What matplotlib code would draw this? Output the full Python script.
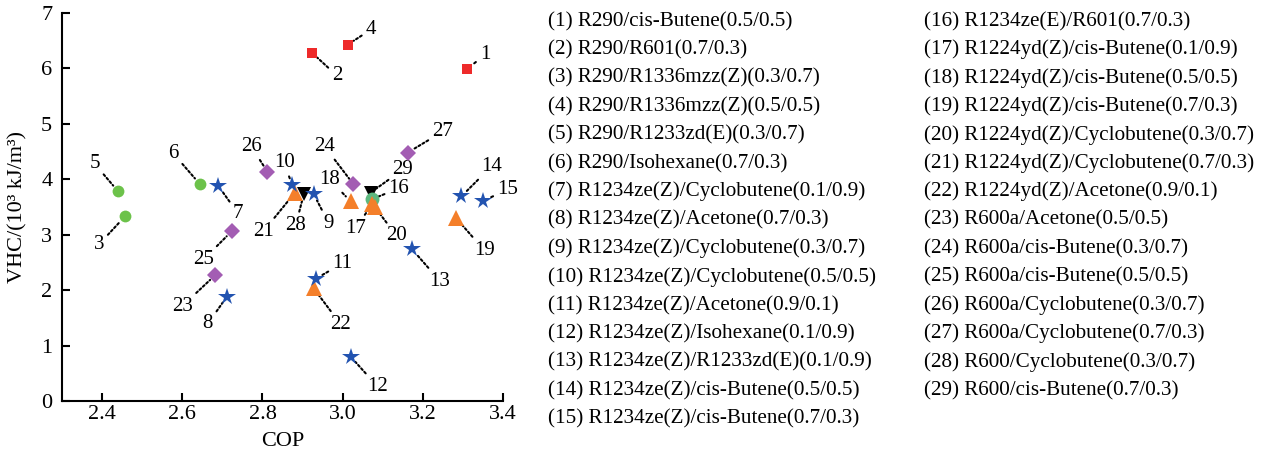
import matplotlib
matplotlib.use('Agg')
import matplotlib.pyplot as plt
from matplotlib.ticker import FormatStrFormatter

plt.rcParams['font.family'] = ['Liberation Serif', 'DejaVu Serif']

# ---------------- data ----------------
mix_ids = list(range(1, 30))
cop = [3.31, 2.924, 2.457, 3.013, 2.439, 2.643, 2.69, 2.711, 2.928, 2.874,
       2.934, 3.02, 3.173, 3.296, 3.349, 3.073, 3.073, 3.02, 3.283, 3.08,
       2.88, 2.928, 2.682, 3.027, 2.723, 2.812, 3.162, 2.903, 3.07]
vhc = [5.99, 6.28, 3.33, 6.43, 3.79, 3.92, 3.88, 1.88, 3.73, 3.90,
       2.21, 0.80, 2.74, 3.69, 3.61, 3.64, 3.55, 3.60, 3.30, 3.50,
       3.75, 2.03, 2.27, 3.91, 3.06, 4.14, 4.48, 3.73, 3.76]
group = ['R290_a', 'R290_a', 'R290_b', 'R290_a', 'R290_b', 'R290_b',
         'ZE', 'ZE', 'ZE', 'ZE', 'ZE', 'ZE', 'ZE', 'ZE', 'ZE',
         'EE', 'YD', 'YD', 'YD', 'YD', 'YD', 'YD',
         'ISO', 'ISO', 'ISO', 'ISO', 'ISO', 'BUT', 'BUT']
legend_names = [
    "R290/cis-Butene(0.5/0.5)", "R290/R601(0.7/0.3)", "R290/R1336mzz(Z)(0.3/0.7)",
    "R290/R1336mzz(Z)(0.5/0.5)", "R290/R1233zd(E)(0.3/0.7)", "R290/Isohexane(0.7/0.3)",
    "R1234ze(Z)/Cyclobutene(0.1/0.9)", "R1234ze(Z)/Acetone(0.7/0.3)",
    "R1234ze(Z)/Cyclobutene(0.3/0.7)", "R1234ze(Z)/Cyclobutene(0.5/0.5)",
    "R1234ze(Z)/Acetone(0.9/0.1)", "R1234ze(Z)/Isohexane(0.1/0.9)",
    "R1234ze(Z)/R1233zd(E)(0.1/0.9)", "R1234ze(Z)/cis-Butene(0.5/0.5)",
    "R1234ze(Z)/cis-Butene(0.7/0.3)", "R1234ze(E)/R601(0.7/0.3)",
    "R1224yd(Z)/cis-Butene(0.1/0.9)", "R1224yd(Z)/cis-Butene(0.5/0.5)",
    "R1224yd(Z)/cis-Butene(0.7/0.3)", "R1224yd(Z)/Cyclobutene(0.3/0.7)",
    "R1224yd(Z)/Cyclobutene(0.7/0.3)", "R1224yd(Z)/Acetone(0.9/0.1)",
    "R600a/Acetone(0.5/0.5)", "R600a/cis-Butene(0.3/0.7)", "R600a/cis-Butene(0.5/0.5)",
    "R600a/Cyclobutene(0.3/0.7)", "R600a/Cyclobutene(0.7/0.3)",
    "R600/Cyclobutene(0.3/0.7)", "R600/cis-Butene(0.7/0.3)"]
x_ticks = [2.4, 2.6, 2.8, 3.0, 3.2, 3.4]
y_ticks = [0, 1, 2, 3, 4, 5, 6, 7]

# label offsets (pixels, dx right, dy down) of each number label from its marker
label_offsets = [(18, -14), (25, 23), (-26, 28), (23, -15), (-23, -27), (-26, -30),
                 (20, 28), (-19, 27), (15, 29), (-8, -22), (26, -15), (27, 30),
                 (28, 32), (30, -30), (25, -11), (27, -11), (-16, 24), (-21, -22),
                 (28, 32), (22, 29), (-31, 38), (27, 36), (-33, 31), (-29, -38),
                 (-28, 28), (-16, -25), (35, -21), (-8, 31), (32, -23)]

# ---------------- styles ----------------
styles = {
    'BUT':    dict(marker='v', color='#000000', ms=10, z=3),
    'EE':     dict(marker='o', color='#5DB87F', ms=10, z=4),
    'YD':     dict(marker='^', color='#F47F2A', ms=11, z=5),
    'ISO':    dict(marker='D', color='#A35DB3', ms=8.5, z=6),
    'ZE':     dict(marker='*', color='#2253B0', ms=13, z=7),
    'R290_a': dict(marker='s', color='#EE2A2A', ms=7, z=8),
    'R290_b': dict(marker='o', color='#6CC24A', ms=8.5, z=8),
}

W, H = 1266, 459
fig = plt.figure(figsize=(W / 100, H / 100), dpi=100)
ax = fig.add_axes([62 / W, 1 - 401 / H, (503 - 62) / W, (401 - 13) / H])

for g, st in styles.items():
    xs = [c for c, gg in zip(cop, group) if gg == g]
    ys = [v for v, gg in zip(vhc, group) if gg == g]
    ax.plot(xs, ys, linestyle='none', marker=st['marker'], color=st['color'],
            markersize=st['ms'], markeredgewidth=0, zorder=st['z'], clip_on=False)

for i, (x, y) in enumerate(zip(cop, vhc)):
    dx, dy = label_offsets[i]
    ax.annotate(str(mix_ids[i]), xy=(x, y), xytext=(dx, -dy), textcoords='offset pixels',
                ha='center', va='center', fontsize=15, zorder=2,
                arrowprops=dict(arrowstyle='-', linestyle=(0, (1, 1.2)), lw=1.5,
                                color='black', shrinkA=1, shrinkB=5))

ax.set_xlim(2.3, 3.4)
ax.set_ylim(0, 7)
ax.set_xticks(x_ticks)
ax.set_yticks(y_ticks)
ax.xaxis.set_major_formatter(FormatStrFormatter('%.1f'))
ax.spines['top'].set_visible(False)
ax.spines['right'].set_visible(False)
for s in ['left', 'bottom']:
    ax.spines[s].set_linewidth(1.5)
ax.tick_params(axis='both', direction='in', length=6, width=1.5, labelsize=16)
ax.tick_params(axis='x', pad=3)
ax.tick_params(axis='y', pad=7)
ax.set_xlabel('COP', fontsize=16, labelpad=6)
ax.set_ylabel('VHC/(10³ kJ/m³)', fontsize=16)
ax.yaxis.set_label_coords(-0.078, 0.5)

# text legend in two columns
col_x = [548 / W, 924 / W]
base0 = 26
step = 28.4
for i, name in enumerate(legend_names):
    col = 0 if i < 15 else 1
    row = i if i < 15 else i - 15
    fig.text(col_x[col], 1 - (base0 + row * step) / H, f"({mix_ids[i]}) {name}",
             fontsize=15.2, ha='left', va='baseline')

fig.savefig('out.png', dpi=100)
